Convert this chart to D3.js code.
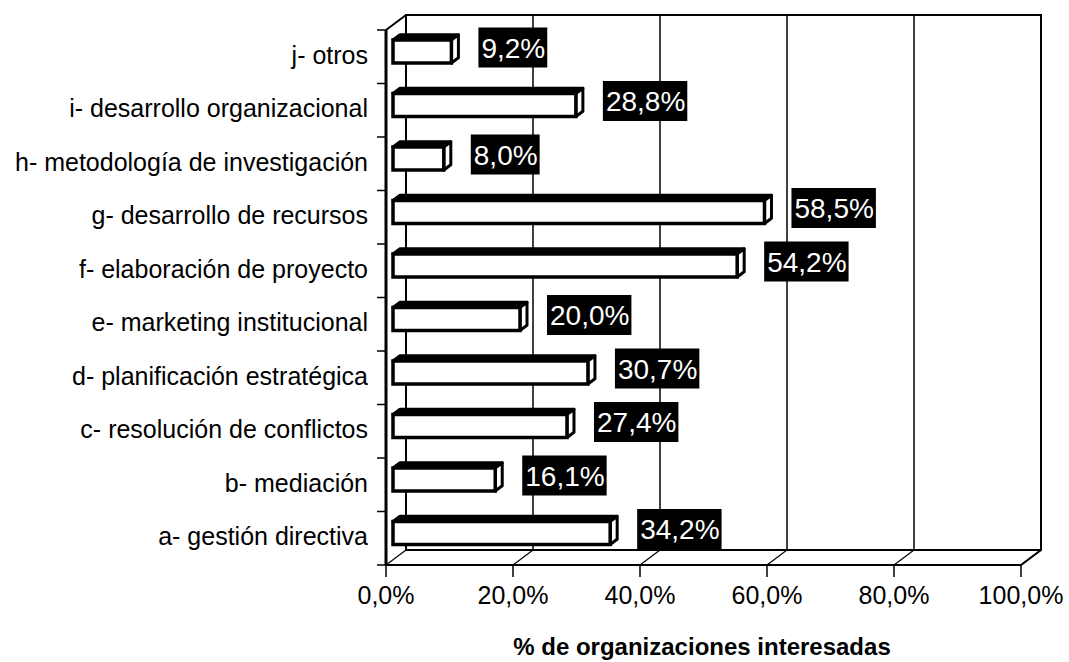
<!DOCTYPE html>
<html>
<head>
<meta charset="utf-8">
<script src="https://cdn.jsdelivr.net/npm/d3@7"></script>
<style>
  body { margin: 0; background: #fff; }
  text { font-family: "Liberation Sans", Arial, sans-serif; fill: #000; }
  .cat { font-size: 25px; }
  .tick-label { font-size: 25px; }
  .val { font-size: 28px; fill: #fff; }
  .title { font-size: 24px; font-weight: bold; }
</style>
</head>
<body>
<div class="layout"></div>
<script>
var categories = [
  "a- gestión directiva",
  "b- mediación",
  "c- resolución de conflictos",
  "d- planificación estratégica",
  "e- marketing institucional",
  "f- elaboración de proyecto",
  "g- desarrollo de recursos",
  "h- metodología de investigación",
  "i- desarrollo organizacional",
  "j- otros"
];
var values = [34.2, 16.1, 27.4, 30.7, 20.0, 54.2, 58.5, 8.0, 28.8, 9.2];
var tickValues = [0, 20, 40, 60, 80, 100];
var axisTitle = "% de organizaciones interesadas";

var width = 1069, height = 662;

// front plane of the 3d box
var x = d3.scaleLinear().domain([0, 100]).range([386, 1021]);
var y = d3.scaleBand()
        .domain(categories.slice().reverse())   // j at top
        .range([30, 565]);

// depth offset, z in 0..1 (front to back wall)
var depthX = 20, depthY = -15;
function dx(z) { return depthX * z; }
function dy(z) { return depthY * z; }

var locale = d3.formatLocale({decimal: ",", thousands: ".", grouping: [3], currency: ["", ""]});
var pct = function(v) { return locale.format(".1f")(v) + "%"; };

var svg = d3.select(".layout").append("svg")
        .attr("width", width)
        .attr("height", height);

var x0 = x(0), x1 = x(100), yTop = y.range()[0], yBot = y.range()[1];

// walls and floor
var frame = svg.append("g").attr("fill", "none").attr("stroke", "#000");

// back wall gridlines
frame.selectAll(".grid")
    .data(tickValues.slice(1, -1))
  .enter().append("line")
    .attr("x1", function(d) { return x(d) + dx(1); })
    .attr("x2", function(d) { return x(d) + dx(1); })
    .attr("y1", yTop + dy(1))
    .attr("y2", yBot + dy(1))
    .attr("stroke-width", 1.5);

// floor gridlines
frame.selectAll(".floor")
    .data(tickValues)
  .enter().append("line")
    .attr("x1", function(d) { return x(d); })
    .attr("x2", function(d) { return x(d) + dx(1); })
    .attr("y1", yBot)
    .attr("y2", yBot + dy(1))
    .attr("stroke-width", 1.2);

frame.append("path")
    .attr("stroke-width", 2)
    .attr("d", "M" + (x0 + dx(1)) + "," + (yBot + dy(1)) + "H" + (x1 + dx(1)) +
               "V" + (yTop + dy(1)) + "H" + (x0 + dx(1)) + "V" + (yBot + dy(1)));

frame.append("path")
    .attr("stroke-width", 2)
    .attr("d", "M" + x0 + "," + yTop + "L" + (x0 + dx(1)) + "," + (yTop + dy(1)) +
               "M" + x1 + "," + yBot + "L" + (x1 + dx(1)) + "," + (yBot + dy(1)));

// axis lines
frame.append("line")
    .attr("x1", x0).attr("x2", x0)
    .attr("y1", yTop).attr("y2", yBot)
    .attr("stroke-width", 3);

frame.append("line")
    .attr("x1", x0).attr("x2", x1)
    .attr("y1", yBot).attr("y2", yBot)
    .attr("stroke-width", 2);

// y ticks at band edges
var edges = y.domain().map(function(d) { return y(d); }).concat([yBot]);
frame.selectAll(".ytick")
    .data(edges)
  .enter().append("line")
    .attr("x1", x0 - 9).attr("x2", x0)
    .attr("y1", function(d) { return d; })
    .attr("y2", function(d) { return d; })
    .attr("stroke-width", 1.5);

// x ticks
frame.selectAll(".xtick")
    .data(tickValues)
  .enter().append("line")
    .attr("x1", function(d) { return x(d); })
    .attr("x2", function(d) { return x(d); })
    .attr("y1", yBot).attr("y2", yBot + 12)
    .attr("stroke-width", 1.5);

svg.append("g").selectAll("text")
    .data(tickValues)
  .enter().append("text")
    .attr("class", "tick-label")
    .attr("x", function(d) { return x(d); })
    .attr("y", 604)
    .attr("text-anchor", "middle")
    .text(pct);

// category labels
svg.append("g").selectAll("text")
    .data(categories)
  .enter().append("text")
    .attr("class", "cat")
    .attr("x", 368)
    .attr("y", function(d) { return y(d) + y.bandwidth() / 2 - 2; })
    .attr("dy", "0.35em")
    .attr("text-anchor", "end")
    .text(function(d) { return d; });

// 3d bars
var zFront = 0.35, zBack = 0.7;
var barH = y.bandwidth() * 0.43;
var bdx = dx(zBack) - dx(zFront), bdy = dy(zBack) - dy(zFront);

var bars = svg.append("g").selectAll("g")
    .data(values)
  .enter().append("g")
    .attr("transform", function(d, i) {
        var cy = y(categories[i]) + y.bandwidth() / 2 + dy(zFront);
        return "translate(" + dx(zFront) + "," + (cy - barH / 2) + ")";
    });

bars.append("path")   // top face
    .attr("fill", "#000")
    .attr("stroke", "#000")
    .attr("stroke-width", 3)
    .attr("stroke-linejoin", "round")
    .attr("d", function(d) {
        return "M" + x0 + ",0L" + (x0 + bdx) + "," + bdy + "L" + (x(d) + bdx) + "," + bdy +
               "L" + x(d) + ",0Z";
    });

bars.append("path")   // side face
    .attr("fill", "#fff")
    .attr("stroke", "#000")
    .attr("stroke-width", 3)
    .attr("stroke-linejoin", "round")
    .attr("d", function(d) {
        return "M" + x(d) + ",0L" + (x(d) + bdx) + "," + bdy + "L" + (x(d) + bdx) + "," + (barH + bdy) +
               "L" + x(d) + "," + barH + "Z";
    });

bars.append("rect")   // front face
    .attr("x", x0)
    .attr("y", 0)
    .attr("width", function(d) { return x(d) - x0; })
    .attr("height", barH)
    .attr("fill", "#fff")
    .attr("stroke", "#000")
    .attr("stroke-width", 3.5);

// value labels: white text on black boxes
var labels = svg.append("g").selectAll("g")
    .data(values)
  .enter().append("g")
    .attr("transform", function(d, i) {
        var cy = y(categories[i]) + y.bandwidth() / 2 + dy(zFront) - 4;
        return "translate(" + (x(d) + bdx + 27) + "," + cy + ")";
    });

labels.append("rect").attr("fill", "#000");

labels.append("text")
    .attr("class", "val")
    .attr("x", 3)
    .attr("dy", "0.36em")
    .text(pct)
    .each(function() {
        var w = this.getComputedTextLength();
        d3.select(this.parentNode).select("rect")
            .attr("x", 0).attr("y", -20)
            .attr("width", w + 5).attr("height", 40);
    });

svg.append("text")
    .attr("class", "title")
    .attr("x", 702)
    .attr("y", 655)
    .attr("text-anchor", "middle")
    .text(axisTitle);
</script>
</body>
</html>
